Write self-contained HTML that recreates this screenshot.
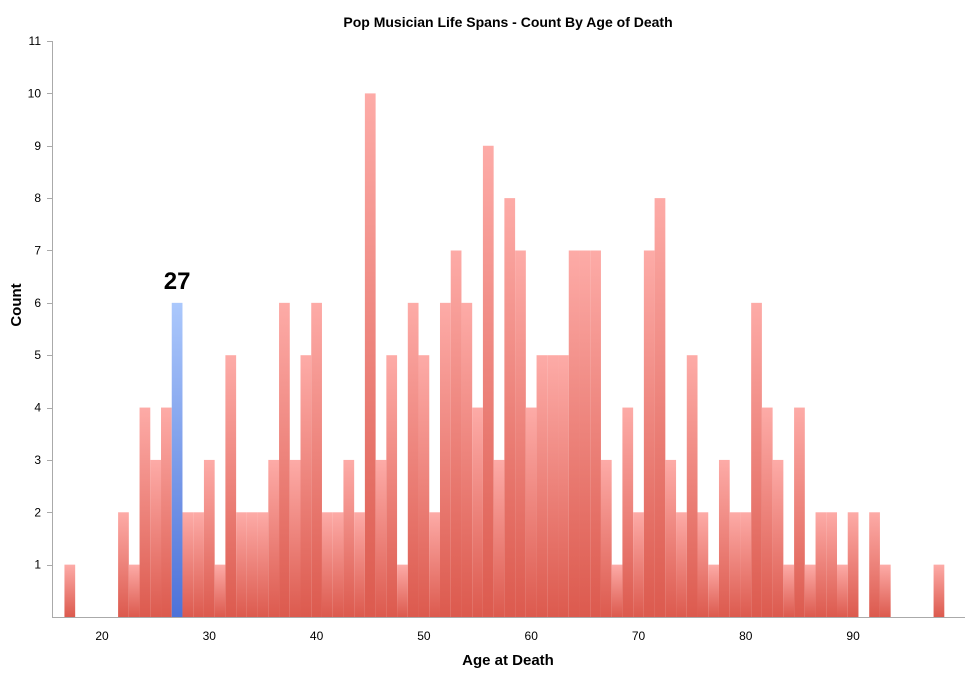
<!DOCTYPE html>
<html><head><meta charset="utf-8"><style>
body{margin:0;background:#fff;font-family:"Liberation Sans",sans-serif}
svg text{font-family:"Liberation Sans",sans-serif}
</style></head><body>
<svg id="chart" width="977" height="673" xmlns="http://www.w3.org/2000/svg">
<defs>
<linearGradient id="gr" x1="0" y1="0" x2="0" y2="1"><stop offset="0" stop-color="#fdaba7"/><stop offset="1" stop-color="#dc5a4e"/></linearGradient>
<linearGradient id="gb" x1="0" y1="0" x2="0" y2="1"><stop offset="0" stop-color="#abc8fc"/><stop offset="1" stop-color="#4d72d8"/></linearGradient>
</defs>
<text x="508" y="27" text-anchor="middle" font-size="14" font-weight="bold">Pop Musician Life Spans - Count By Age of Death</text>
<text transform="translate(21,305) rotate(-90)" text-anchor="middle" font-size="15" font-weight="bold">Count</text>
<text x="508" y="665" text-anchor="middle" font-size="15" font-weight="bold">Age at Death</text>
<g id="bars"></g>
<g id="axes"></g>
</svg>
<script>
const ages = [17,18,19,20,21,22,23,24,25,26,27,28,29,30,31,32,33,34,35,36,37,38,39,40,41,42,43,44,45,46,47,48,49,50,51,52,53,54,55,56,57,58,59,60,61,62,63,64,65,66,67,68,69,70,71,72,73,74,75,76,77,78,79,80,81,82,83,84,85,86,87,88,89,90,91,92,93,94,95,96,97,98];
const counts = [1,0,0,0,0,2,1,4,3,4,6,2,2,3,1,5,2,2,2,3,6,3,5,6,2,2,3,2,10,3,5,1,6,5,2,6,7,6,4,9,3,8,7,4,5,5,5,7,7,7,3,1,4,2,7,8,3,2,5,2,1,3,2,2,6,4,3,1,4,1,2,2,1,2,0,2,1,0,0,0,0,1];
const highlightAge = 27;
const yTicks = [1,2,3,4,5,6,7,8,9,10,11];
const xTicks = [20,30,40,50,60,70,80,90];
const NS="http://www.w3.org/2000/svg";
const x = a => 102 + (a-20)*10.73;
const y = v => 617 - v*52.36;
const bw = 10.73;
const bars=document.getElementById('bars'), axes=document.getElementById('axes');
ages.forEach((a,i)=>{
  if(!counts[i]) return;
  const r=document.createElementNS(NS,'rect');
  
  
  r.setAttribute('x',x(a)-bw/2); r.setAttribute('width',bw);
  r.setAttribute('y',y(counts[i])); r.setAttribute('height',y(0)-y(counts[i]));
  r.setAttribute('fill',a===highlightAge?'url(#gb)':'url(#gr)');
  bars.appendChild(r);
  if(a===highlightAge){
    const t=document.createElementNS(NS,'text');
    
    
    t.setAttribute('x',x(a)); t.setAttribute('y',y(counts[i])-14);
    t.setAttribute('text-anchor','middle'); t.setAttribute('font-size','24'); t.setAttribute('font-weight','bold');
    t.textContent=String(a); bars.appendChild(t);
  }
});
function line(x1,y1,x2,y2,n){const l=document.createElementNS(NS,'line');
  
  
  l.setAttribute('x1',x1);l.setAttribute('y1',y1);l.setAttribute('x2',x2);l.setAttribute('y2',y2);
  l.setAttribute('stroke','#aaa');l.setAttribute('stroke-width','1');axes.appendChild(l);}
line(52.5,y(11),52.5,617.5,'y-axis-line');
line(52,617.5,965,617.5,'x-axis-line');
yTicks.forEach(v=>{
  line(47,Math.round(y(v))+0.5,52,Math.round(y(v))+0.5,'y-tick');
  const t=document.createElementNS(NS,'text');
  
  
  t.setAttribute('x',41);t.setAttribute('y',y(v)+4);t.setAttribute('text-anchor','end');t.setAttribute('font-size','12');
  t.textContent=v;axes.appendChild(t);
});
xTicks.forEach(v=>{
  const t=document.createElementNS(NS,'text');
  
  
  t.setAttribute('x',x(v));t.setAttribute('y',640);t.setAttribute('text-anchor','middle');t.setAttribute('font-size','12');
  t.textContent=v;axes.appendChild(t);
});
</script>
</body></html>
